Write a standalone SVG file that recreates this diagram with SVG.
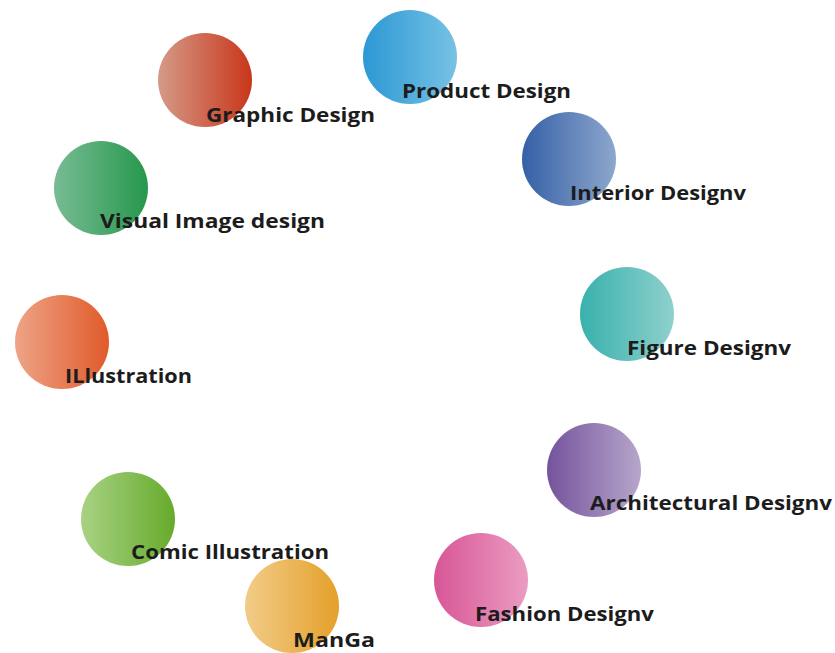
<svg xmlns="http://www.w3.org/2000/svg" width="835" height="653" viewBox="0 0 835 653">
<style>
.lbl{font-family:"Open Sans","Liberation Sans",sans-serif;font-weight:700;font-size:20px;fill:#1c1c1c}
</style>
<defs>
<linearGradient id="gGraphic" x1="0" y1="0" x2="1" y2="0"><stop offset="0" stop-color="#d59a88"/><stop offset="1" stop-color="#c8361a"/></linearGradient>
<linearGradient id="gProduct" x1="0" y1="0" x2="1" y2="0"><stop offset="0" stop-color="#2c98d4"/><stop offset="1" stop-color="#76c2e4"/></linearGradient>
<linearGradient id="gInterior" x1="0" y1="0" x2="1" y2="0"><stop offset="0" stop-color="#3560a6"/><stop offset="1" stop-color="#8da7cd"/></linearGradient>
<linearGradient id="gVisual" x1="0" y1="0" x2="1" y2="0"><stop offset="0" stop-color="#78bb94"/><stop offset="1" stop-color="#26984c"/></linearGradient>
<linearGradient id="gFigure" x1="0" y1="0" x2="1" y2="0"><stop offset="0" stop-color="#38b1ad"/><stop offset="1" stop-color="#8fd0cc"/></linearGradient>
<linearGradient id="gIllu" x1="0" y1="0" x2="1" y2="0"><stop offset="0" stop-color="#eda487"/><stop offset="1" stop-color="#e15a2a"/></linearGradient>
<linearGradient id="gArch" x1="0" y1="0" x2="1" y2="0"><stop offset="0" stop-color="#74539c"/><stop offset="1" stop-color="#b7a6cb"/></linearGradient>
<linearGradient id="gComic" x1="0" y1="0" x2="1" y2="0"><stop offset="0" stop-color="#a9d283"/><stop offset="1" stop-color="#66ab2c"/></linearGradient>
<linearGradient id="gManga" x1="0" y1="0" x2="1" y2="0"><stop offset="0" stop-color="#f2cc88"/><stop offset="1" stop-color="#e4a02a"/></linearGradient>
<linearGradient id="gFashion" x1="0" y1="0" x2="1" y2="0"><stop offset="0" stop-color="#d85696"/><stop offset="1" stop-color="#ea9cc1"/></linearGradient>
</defs>
<rect width="835" height="653" fill="#ffffff"/>
<g id="connectors"/>
<g id="node-graphic"><circle cx="205" cy="80" r="47" fill="url(#gGraphic)"/><text class="lbl" x="206" y="122" textLength="169" lengthAdjust="spacingAndGlyphs">Graphic Design</text></g>
<g id="node-product"><circle cx="410" cy="57" r="47" fill="url(#gProduct)"/><text class="lbl" x="402" y="98" textLength="169" lengthAdjust="spacingAndGlyphs">Product Design</text></g>
<g id="node-interior"><circle cx="569" cy="159" r="47" fill="url(#gInterior)"/><text class="lbl" x="570" y="200" textLength="176" lengthAdjust="spacingAndGlyphs">Interior Designv</text></g>
<g id="node-visual"><circle cx="101" cy="188" r="47" fill="url(#gVisual)"/><text class="lbl" x="100" y="228" textLength="225" lengthAdjust="spacingAndGlyphs">Visual Image design</text></g>
<g id="node-figure"><circle cx="627" cy="314" r="47" fill="url(#gFigure)"/><text class="lbl" x="627" y="355" textLength="164" lengthAdjust="spacingAndGlyphs">Figure Designv</text></g>
<g id="node-illustration"><circle cx="62" cy="342" r="47" fill="url(#gIllu)"/><text class="lbl" x="65" y="383" textLength="127" lengthAdjust="spacingAndGlyphs">ILlustration</text></g>
<g id="node-architectural"><circle cx="594" cy="470" r="47" fill="url(#gArch)"/><text class="lbl" x="590" y="510" textLength="242" lengthAdjust="spacingAndGlyphs">Architectural Designv</text></g>
<g id="node-manga"><circle cx="292" cy="606" r="47" fill="url(#gManga)"/><text class="lbl" x="293" y="647" textLength="82" lengthAdjust="spacingAndGlyphs">ManGa</text></g>
<g id="node-comic"><circle cx="128" cy="519" r="47" fill="url(#gComic)"/><text class="lbl" x="131" y="559" textLength="198" lengthAdjust="spacingAndGlyphs">Comic Illustration</text></g>
<g id="node-fashion"><circle cx="481" cy="580" r="47" fill="url(#gFashion)"/><text class="lbl" x="475" y="621" textLength="179" lengthAdjust="spacingAndGlyphs">Fashion Designv</text></g>
</svg>
